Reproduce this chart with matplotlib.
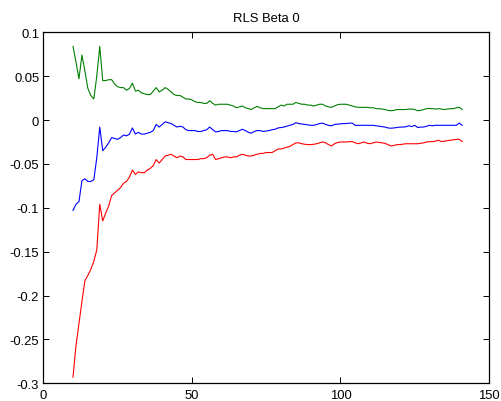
import matplotlib
matplotlib.use("Agg")
import matplotlib.pyplot as plt
import numpy as np

plt.rcParams['font.family'] = ['Liberation Sans', 'DejaVu Sans']

x_start = 10
green = [0.084, 0.066, 0.047, 0.074, 0.056, 0.036, 0.028, 0.024, 0.050, 0.084,
         0.045, 0.045, 0.046, 0.046, 0.041, 0.038, 0.037, 0.037, 0.034, 0.036,
         0.042, 0.033, 0.034, 0.031, 0.030, 0.029, 0.029, 0.033, 0.037, 0.032,
         0.034, 0.037, 0.035, 0.032, 0.029, 0.028, 0.028, 0.026, 0.024, 0.024,
         0.023, 0.021, 0.020, 0.020, 0.019, 0.019, 0.022, 0.019, 0.017, 0.018,
         0.018, 0.018, 0.018, 0.017, 0.016, 0.014, 0.015, 0.016, 0.014, 0.013,
         0.012, 0.014, 0.0155, 0.014, 0.013, 0.013, 0.013, 0.013, 0.013, 0.015,
         0.017, 0.016, 0.018, 0.018, 0.018, 0.020, 0.019, 0.018, 0.018, 0.017,
         0.017, 0.016, 0.017, 0.018, 0.018, 0.016, 0.015, 0.0145, 0.016, 0.0175,
         0.018, 0.018, 0.018, 0.017, 0.016, 0.015, 0.0145, 0.0145, 0.0145, 0.0145,
         0.014, 0.014, 0.013, 0.013, 0.0125, 0.012, 0.011, 0.0106, 0.011, 0.012,
         0.012, 0.012, 0.012, 0.0125, 0.0125, 0.012, 0.0106, 0.011, 0.012, 0.013,
         0.0132, 0.013, 0.0125, 0.013, 0.0125, 0.012, 0.0125, 0.013, 0.013, 0.014,
         0.0144, 0.012]
blue = [-0.103, -0.096, -0.093, -0.069, -0.067, -0.070, -0.070, -0.068, -0.043, -0.008,
        -0.035, -0.031, -0.026, -0.020, -0.021, -0.022, -0.020, -0.017, -0.018, -0.016,
        -0.009, -0.016, -0.014, -0.016, -0.016, -0.015, -0.014, -0.012, -0.005, -0.008,
        -0.005, -0.002, -0.003, -0.004, -0.006, -0.008, -0.007, -0.008, -0.011, -0.012,
        -0.012, -0.012, -0.013, -0.013, -0.012, -0.011, -0.008, -0.011, -0.0135, -0.013,
        -0.012, -0.012, -0.012, -0.013, -0.013, -0.0135, -0.012, -0.0105, -0.012, -0.014,
        -0.015, -0.013, -0.012, -0.012, -0.013, -0.0125, -0.012, -0.011, -0.0105, -0.009,
        -0.0085, -0.008, -0.007, -0.006, -0.005, -0.003, -0.004, -0.0045, -0.005, -0.0055,
        -0.006, -0.006, -0.005, -0.004, -0.0035, -0.005, -0.006, -0.0066, -0.005, -0.0047,
        -0.0045, -0.004, -0.004, -0.0035, -0.0035, -0.006, -0.006, -0.006, -0.006, -0.006,
        -0.006, -0.006, -0.0065, -0.007, -0.0074, -0.008, -0.009, -0.0093, -0.009, -0.0085,
        -0.008, -0.008, -0.0077, -0.0065, -0.0075, -0.006, -0.0085, -0.008, -0.008, -0.007,
        -0.006, -0.0065, -0.006, -0.006, -0.006, -0.006, -0.006, -0.006, -0.006, -0.006,
        -0.0035, -0.006]
red = [-0.293, -0.257, -0.232, -0.207, -0.183, -0.177, -0.170, -0.161, -0.148, -0.096,
       -0.115, -0.106, -0.098, -0.086, -0.083, -0.080, -0.077, -0.072, -0.070, -0.065,
       -0.057, -0.062, -0.059, -0.060, -0.060, -0.057, -0.055, -0.052, -0.045, -0.049,
       -0.045, -0.041, -0.040, -0.039, -0.041, -0.043, -0.041, -0.042, -0.045, -0.045,
       -0.045, -0.045, -0.045, -0.044, -0.044, -0.043, -0.040, -0.039, -0.045, -0.044,
       -0.043, -0.042, -0.042, -0.043, -0.042, -0.042, -0.040, -0.039, -0.040, -0.041,
       -0.041, -0.040, -0.039, -0.038, -0.038, -0.037, -0.037, -0.037, -0.035, -0.033,
       -0.033, -0.032, -0.031, -0.030, -0.028, -0.026, -0.026, -0.027, -0.0276, -0.028,
       -0.028, -0.0276, -0.027, -0.026, -0.025, -0.026, -0.028, -0.0295, -0.027, -0.0257,
       -0.025, -0.025, -0.025, -0.0246, -0.0246, -0.026, -0.027, -0.026, -0.025, -0.0265,
       -0.027, -0.026, -0.025, -0.0255, -0.026, -0.0265, -0.028, -0.0295, -0.029, -0.028,
       -0.028, -0.0275, -0.027, -0.027, -0.027, -0.027, -0.027, -0.0265, -0.026, -0.025,
       -0.0246, -0.0246, -0.024, -0.023, -0.0246, -0.024, -0.0235, -0.023, -0.0225, -0.022,
       -0.022, -0.0246]

x_ticks = [0, 50, 100, 150]
y_ticks = [-0.3, -0.25, -0.2, -0.15, -0.1, -0.05, 0, 0.05, 0.1]
y_ticklabels = ['-0.3', '-0.25', '-0.2', '-0.15', '-0.1', '-0.05', '0', '0.05', '0.1']
title = 'RLS Beta 0'

x = np.arange(x_start, x_start + len(green))

fig = plt.figure(figsize=(5.01, 4.02), dpi=100)
W, H = 501, 402
ax = fig.add_axes([43.3 / W, 1 - 384.3 / H, (489 - 43.3) / W, (384.3 - 33.3) / H])

ax.plot(x, green, color=(0, 0.5, 0), lw=0.8)
ax.plot(x, blue, color=(0, 0, 1), lw=0.8)
ax.plot(x, red, color=(1, 0, 0), lw=0.8)

ax.set_xlim(0, 150)
ax.set_ylim(-0.3, 0.1)
ax.set_xticks(x_ticks)
ax.set_xticklabels([str(t) for t in x_ticks])
ax.set_yticks(y_ticks)
ax.set_yticklabels(y_ticklabels)
ax.tick_params(direction='in', length=4, width=0.7, top=True, right=True,
               labelsize=9.4, colors='black')
ax.tick_params(axis='y', pad=3)
ax.tick_params(axis='x', pad=4)
for s in ax.spines.values():
    s.set_linewidth(0.9)
    s.set_color('black')
ax.set_title(title, fontsize=9.4, pad=8)

fig.savefig('out.png', dpi=100)
